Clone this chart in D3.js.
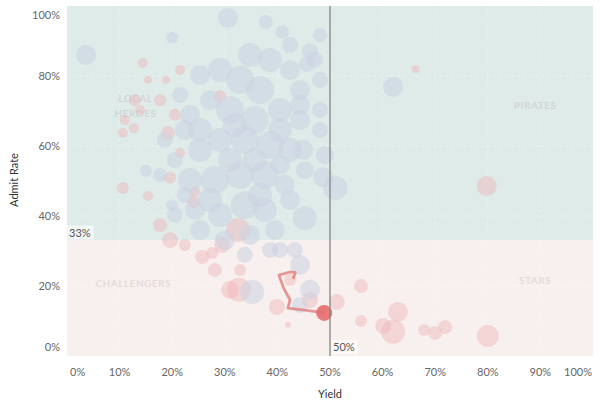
<!DOCTYPE html>
<html><head><meta charset="utf-8">
<script src="https://cdn.jsdelivr.net/npm/d3@7"></script>
<style>body{margin:0;background:#fff;}svg{display:block;font-family:Lato,"Open Sans",sans-serif;}</style>
</head><body><svg id="c" width="600" height="406"></svg>
<script>
// Data (percent values)
const xTicks = [0,10,20,30,40,50,60,70,80,90,100];
const yTicks = [0,20,40,60,80,100];
const admitThreshold = 33;
const yieldThreshold = 50;
const quadrantNames = ["LOCAL\nHEROES","PIRATES","CHALLENGERS","STARS"];

const blueYield = [3.6,30.6,37.8,40.9,48.1,20.0,34.8,38.6,32.9,36.7,42.4,44.3,47.1,48.1,25.3,29.1,27.2,21.5,23.4,31.0,35.7,40.5,44.3,33.8,38.6,42.4,29.1,25.3,20.5,17.7,23.4,28.1,32.9,37.6,41.4,45.2,51.0,49.0,33.8,37.6,29.1,24.3,20.5,15.0,20.0,45.2,25.3,30.0,34.8,40.5,44.3,43.3,46.2,44.3,35.2,38.6,33.8,46.2,45.6,22.4,18.6,44.9,48.7,62.0,
  25.3,40.5,27.2,44.3,31.9,36.7,22.4,48.1,48.1,42.4,39.5,42.4,31.0,35.7,40.5];
const blueAdmit = [86.0,96.6,95.4,92.6,91.7,90.9,86.0,84.6,78.9,76.0,81.7,76.0,84.6,78.9,80.3,81.7,73.1,74.6,68.9,70.3,67.4,70.3,67.4,61.7,60.3,58.9,61.7,58.9,56.0,51.7,50.3,50.3,51.7,51.7,48.9,53.1,48.0,57.4,43.1,41.7,40.3,41.7,40.3,52.9,43.1,39.4,36.0,33.1,34.6,30.3,26.0,30.3,18.9,14.6,18.3,30.3,28.9,87.1,83.4,64.6,61.7,58.9,51.1,76.9,
  64.6,64.6,44.6,71.7,66.0,46.0,46.0,70.3,64.6,88.9,36.0,44.6,56.0,56.0,54.6];
const blueSize  = [100,100,49,49,49,36,144,144,196,196,100,100,64,64,100,144,100,64,100,196,196,144,100,196,196,144,144,144,64,49,144,196,196,196,100,81,144,81,196,144,144,100,64,36,36,144,100,100,100,64,100,64,100,64,144,64,64,64,64,100,64,100,100,100,
  144,144,144,100,144,144,64,64,64,64,100,100,144,144,100];

const pinkYield = [14.4,15.4,18.8,12.9,13.9,17.7,11.0,10.6,12.7,19.2,20.5,21.5,10.6,15.4,17.7,19.6,22.4,19.6,24.3,27.6,29.5,32.5,28.1,32.9,32.7,31.0,39.9,42.4,46.2,51.3,55.9,62.9,55.9,62.0,60.1,67.9,70.0,71.9,80.0,66.3,79.8,42.0,29.1,21.5,24.0,25.7];
const pinkAdmit = [83.7,78.9,78.9,73.1,70.3,73.1,67.4,63.7,65.1,63.7,68.9,81.7,48.0,45.7,37.4,33.1,31.7,50.9,46.9,29.4,31.7,36.0,24.6,24.6,18.9,18.9,14.0,21.7,16.0,15.4,20.0,12.6,10.0,6.9,8.6,7.4,6.6,8.3,5.7,82.0,48.6,8.9,74.3,58.0,44.0,28.3];
const pinkSize  = [25,16,16,36,25,36,25,25,25,49,36,25,36,25,49,64,36,36,25,36,64,144,49,36,144,81,64,36,64,64,49,100,36,144,64,36,49,49,121,16,100,9,36,25,36,49];

// highlighted trajectory
const pathYield = [43.0,43.4,42.4,40.3,41.1,42.4,42.0,45.2,48.9];
const pathAdmit = [22.0,23.9,24.0,23.1,19.7,16.0,13.7,13.1,12.3];
const focusYield = 48.9, focusAdmit = 12.3, focusSize = 64;

const svg = d3.select("#c");
const L=67,R=593,T=6,B=356;
const x = d3.scaleLinear().domain([0,100]).range([L,R]);
const y = d3.scaleLinear().domain([0,100]).range([B,T]);
const r = d3.scaleSqrt().domain([0,196]).range([0,14]);

// quadrant backgrounds
svg.append("rect").attr("x",L).attr("y",T).attr("width",R-L).attr("height",y(admitThreshold)-T).attr("fill","#deebe8");
svg.append("rect").attr("x",L).attr("y",y(admitThreshold)).attr("width",R-L).attr("height",B-y(admitThreshold)).attr("fill","#f8f0ee");

// faint grid
svg.append("g").selectAll("line").data(yTicks.slice(1,-1)).join("line")
  .attr("x1",L).attr("x2",R).attr("y1",d=>y(d)).attr("y2",d=>y(d))
  .attr("stroke","#fff").attr("stroke-opacity",0.4).attr("stroke-dasharray","3,3");
svg.append("g").selectAll("line").data(xTicks.slice(1,-1)).join("line")
  .attr("y1",T).attr("y2",B).attr("x1",d=>x(d)).attr("x2",d=>x(d))
  .attr("stroke","#fff").attr("stroke-opacity",0.3).attr("stroke-dasharray","3,3");

// quadrant labels
const ql = svg.append("g").attr("font-size",10).attr("font-weight","bold").attr("fill","#d2d6d6").attr("text-anchor","middle").attr("letter-spacing",0.5);
ql.append("text").attr("x",x(13)).attr("y",y(72.5)).text(quadrantNames[0].split("\n")[0]);
ql.append("text").attr("x",x(13)).attr("y",y(68.3)).text(quadrantNames[0].split("\n")[1]);
ql.append("text").attr("x",x(89)).attr("y",y(70.7)).text(quadrantNames[1]);
ql.append("text").attr("x",x(12.6)).attr("y",y(19.7)).attr("fill","#e4dcda").text(quadrantNames[2]);
ql.append("text").attr("x",x(89)).attr("y",y(20.6)).attr("fill","#e4dcda").text(quadrantNames[3]);

// bubbles
const blue = blueYield.map((d,i)=>({x:d,y:blueAdmit[i],s:blueSize[i]}));
const pink = pinkYield.map((d,i)=>({x:d,y:pinkAdmit[i],s:pinkSize[i]}));
svg.append("g").selectAll("circle").data(pink).join("circle")
  .attr("cx",d=>x(d.x)).attr("cy",d=>y(d.y)).attr("r",d=>r(d.s))
  .attr("fill","#efb4b9").attr("fill-opacity",0.45);
svg.append("g").selectAll("circle").data(blue).join("circle")
  .attr("cx",d=>x(d.x)).attr("cy",d=>y(d.y)).attr("r",d=>r(d.s))
  .attr("fill","#cad1e2").attr("fill-opacity",0.55);

// trajectory
const line = d3.line().x((d,i)=>x(pathYield[i])).y((d,i)=>y(pathAdmit[i])).curve(d3.curveLinear);
svg.append("path").datum(pathYield).attr("d",line).attr("fill","none")
  .attr("stroke","#e0777a").attr("stroke-width",2.8).attr("stroke-opacity",0.75).attr("stroke-linejoin","round");
svg.append("circle").attr("cx",x(focusYield)).attr("cy",y(focusAdmit)).attr("r",r(focusSize))
  .attr("fill","#e46c6c").attr("fill-opacity",0.9);

// reference line
svg.append("line").attr("x1",x(yieldThreshold)).attr("x2",x(yieldThreshold)).attr("y1",T).attr("y2",B)
  .attr("stroke","#858585").attr("stroke-width",1.3);

// reference labels
svg.append("rect").attr("x",L).attr("y",y(admitThreshold)-15).attr("width",27).attr("height",14).attr("fill","#fff").attr("fill-opacity",0.6);
svg.append("text").attr("x",L+2).attr("y",y(admitThreshold)-4).attr("font-size",11).attr("fill","#555").text(admitThreshold+"%");
svg.append("rect").attr("x",x(yieldThreshold)+1).attr("y",B-16).attr("width",27).attr("height",14).attr("fill","#fff").attr("fill-opacity",0.5);
svg.append("text").attr("x",x(yieldThreshold)+3).attr("y",B-5).attr("font-size",11).attr("fill","#555").text(yieldThreshold+"%");

// axes tick labels
svg.append("g").selectAll("text").data(xTicks).join("text")
  .attr("x",d=> d===0 ? x(d)+3 : d===100 ? x(d)-1 : x(d))
  .attr("text-anchor",d=> d===0 ? "start" : d===100 ? "end" : "middle")
  .attr("y",376).attr("font-size",11).attr("fill","#666").text(d=>d+"%");
svg.append("g").selectAll("text").data(yTicks).join("text")
  .attr("x",60).attr("text-anchor","end")
  .attr("y",d=> d===0 ? y(d)-9 : d===100 ? y(d)+9 : y(d))
  .attr("dy","0.35em").attr("font-size",11).attr("fill","#666").text(d=>d+"%");

// axis titles
svg.append("text").attr("x",x(50)).attr("y",398).attr("text-anchor","middle").attr("font-size",11).attr("fill","#333").text("Yield");
svg.append("text").attr("transform","translate(18,180) rotate(-90)").attr("text-anchor","middle").attr("font-size",11).attr("fill","#333").text("Admit Rate");
</script></body></html>
